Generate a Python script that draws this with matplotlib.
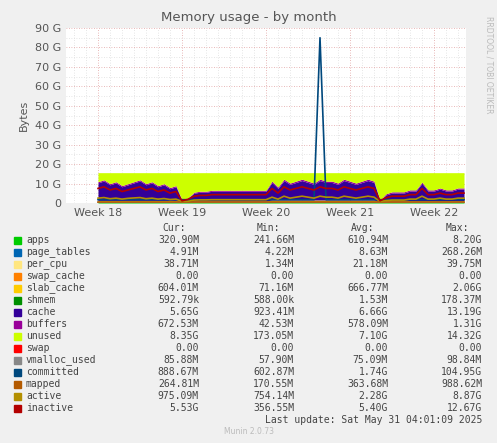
import matplotlib
matplotlib.use("Agg")
import matplotlib.pyplot as plt
import numpy as np

# half-day samples starting at Week 18 boundary
cache = [9,10,8,9,7,8,9,10,8,9,7,8,6,7, 1,2, 4,4.5,4.5,5,5,5,5,5,5,5,5,5,5,
         9,6,10,8,9,10,9,8,10,9,9,8,10,9, 8, 9,10,9, 1, 3,4,4,4,5,5,9,5,5,6,5,5,6,6]
apps = [0.6]*14 + [0.25,0.3] + [0.5]*13 + [0.7]*18 + [0.3] + [0.5]*14
slab = [0.7]*14 + [0.1,0.2] + [0.5]*13 + [0.8]*18 + [0.1] + [0.6]*14
buffers = [0.6]*14 + [0.05,0.1] + [0.5]*13 + [0.7]*18 + [0.05] + [0.6]*14
page_tables = [0.01]*62
per_cpu = [0.03]*62
shmem = [0.002]*62
total = [15.6]*62
committed = [1.7]*37 + [85] + [1.7]*24
mapped = [0.4]*62
active = [2.5,2.8,2.2,2.5,2,2.4,2.6,2.8,2.2,2.5,2,2.3,1.8,2, 0.8,0.9, 1.5,1.6,1.6,1.7,1.7,1.7,1.7,1.7,1.7,1.7,1.7,1.7,1.7,
          3,2,3.5,2.5,3,3.5,3,2.5,3.5,3,3,2.5,3.5,3, 2.5, 3,3.5,3, 0.8, 1.2,1.5,1.5,1.5,2,2,3.5,2,2,2.5,2,2,2.5,2.5]
vmalloc = [0.075]*62

n = len(cache)
days = np.arange(n) * 0.5
unused = [t - (a+b+c+d+e+f+g) for t,a,b,c,d,e,f,g in zip(total,apps,page_tables,per_cpu,slab,shmem,cache,buffers)]
inactive = [c*0.8 + 0.3 for c in cache]

fig = plt.figure(figsize=(4.97,4.43), dpi=100, facecolor="#F0F0F0")
ax = fig.add_axes([66/497, 1-203/443, 400/497, 175/443])
ax.set_facecolor("white")
layers = [(apps,"#00CC00"),(page_tables,"#0066B3"),(per_cpu,"#FFE680"),([0]*n,"#FF8000"),
          (slab,"#FFCC00"),(shmem,"#008F00"),(cache,"#330099"),(buffers,"#990099"),
          (unused,"#CCFF00"),([0]*n,"#FF0000")]
base = np.zeros(n)
for vals,col in layers:
    v = np.array(vals, float)
    ax.fill_between(days, base, base+v, color=col, lw=0, zorder=2)
    base = base + v
for vals,col in [(vmalloc,"#888888"),(committed,"#00487D"),(mapped,"#B35A00"),(active,"#B38F00"),(inactive,"#B30000")]:
    ax.plot(days, vals, color=col, lw=1.2, zorder=3)

xmin = -32/12; xmax = (466-98)/12
ax.set_xlim(xmin, xmax)
ax.set_ylim(0, 90)
ax.set_yticks(range(0,91,10))
ax.set_yticklabels(["0"]+[f"{v} G" for v in range(10,91,10)], fontsize=8, color="#555555")
ax.set_yticks(range(0,91,5), minor=True)
wk = [0,7,14,21,28]
ax.set_xticks(wk)
ax.set_xticklabels(["Week 18","Week 19","Week 20","Week 21","Week 22"], fontsize=8, color="#555555")
ax.set_xticks(np.arange(-2,31,1), minor=True)
ax.grid(which="minor", color="#dddddd", ls=(0,(1,2)), lw=0.6, zorder=1)
ax.grid(which="major", color="#e0a0a0", ls=(0,(1,2)), lw=0.6, zorder=1)
ax.set_axisbelow(True)
ax.tick_params(length=0, which="both")
for s in ax.spines.values(): s.set_visible(False)
ax.set_ylabel("Bytes", fontsize=8, color="#555555")
fig.text(0.5, 1-17/443, "Memory usage - by month", ha="center", va="center", fontsize=9.5, color="#555555")
fig.text(489/497, 1-65/443, "RRDTOOL / TOBI OETIKER", rotation=270, ha="center", va="center", fontsize=5.5, color="#bbbbbb")

names = ["apps","page_tables","per_cpu","swap_cache","slab_cache","shmem","cache","buffers","unused","swap","vmalloc_used","committed","mapped","active","inactive"]
cols = ["#00CC00","#0066B3","#FFE680","#FF8000","#FFCC00","#008F00","#330099","#990099","#CCFF00","#FF0000","#888888","#00487D","#B35A00","#B38F00","#B30000"]
cur = ["320.90M","4.91M","38.71M","0.00","604.01M","592.79k","5.65G","672.53M","8.35G","0.00","85.88M","888.67M","264.81M","975.09M","5.53G"]
mn = ["241.66M","4.22M","1.34M","0.00","71.16M","588.00k","923.41M","42.53M","173.05M","0.00","57.90M","602.87M","170.55M","754.14M","356.55M"]
avg = ["610.94M","8.63M","21.18M","0.00","666.77M","1.53M","6.66G","578.09M","7.10G","0.00","75.09M","1.74G","363.68M","2.28G","5.40G"]
mx = ["8.20G","268.26M","39.75M","0.00","2.06G","178.37M","13.19G","1.31G","14.32G","0.00","98.84M","104.95G","988.62M","8.87G","12.67G"]

mono = dict(family="DejaVu Sans Mono", fontsize=7, color="#444444")
def T(x,y,s,**k):
    fig.text(x/497, 1-y/443, s, va="center", **{**mono, **k})
T(186,228,"Cur:",ha="right"); T(280,228,"Min:",ha="right"); T(374,228,"Avg:",ha="right"); T(469,228,"Max:",ha="right")
for i,nm in enumerate(names):
    y = 240 + i*12
    fig.patches.append(plt.Rectangle((14/497, 1-(y+3.5)/443), 7/497, 7/443, transform=fig.transFigure, color=cols[i]))
    T(26,y,nm,ha="left")
    T(199,y,cur[i],ha="right"); T(294,y,mn[i],ha="right"); T(388,y,avg[i],ha="right"); T(482,y,mx[i],ha="right")
T(482,420,"Last update: Sat May 31 04:01:09 2025",ha="right")
fig.text(249/497, 1-432/443, "Munin 2.0.73", ha="center", va="center", fontsize=5.5, color="#bbbbbb")
fig.savefig("out.png", dpi=100, facecolor=fig.get_facecolor())
